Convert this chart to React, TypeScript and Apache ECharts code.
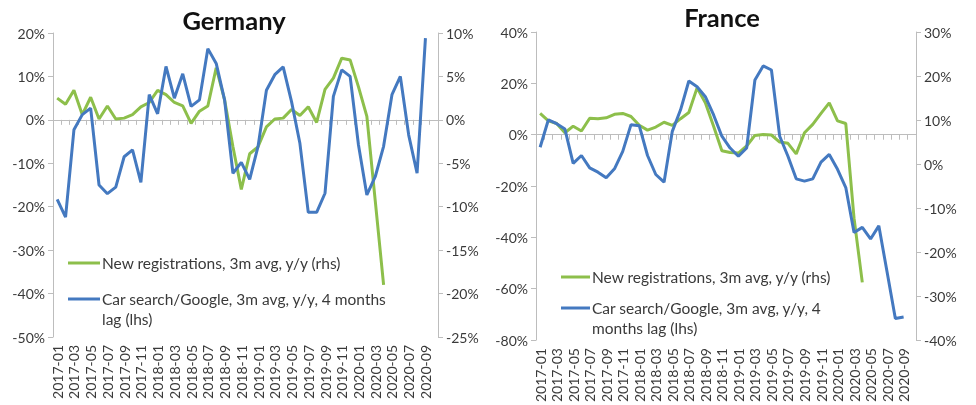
import React, { useEffect, useRef } from "react";
import * as echarts from "echarts";

const months: string[] = [
  "2017-01","2017-02","2017-03","2017-04","2017-05","2017-06","2017-07","2017-08","2017-09","2017-10","2017-11","2017-12",
  "2018-01","2018-02","2018-03","2018-04","2018-05","2018-06","2018-07","2018-08","2018-09","2018-10","2018-11","2018-12",
  "2019-01","2019-02","2019-03","2019-04","2019-05","2019-06","2019-07","2019-08","2019-09","2019-10","2019-11","2019-12",
  "2020-01","2020-02","2020-03","2020-04","2020-05","2020-06","2020-07","2020-08","2020-09","2020-10",
];

const deSearch: (number | null)[] = [
  -18.3, -22.4, -2.3, 1.2, 2.7, -15, -17, -15.5, -8.5, -6.9,
  -14.4, 5.8, 1.4, 12.3, 5, 10.6, 3.1, 4.6, 16.4, 13,
  4.6, -12.3, -9.8, -13.7, -6.1, 6.8, 10.4, 12.2, 4.2, -5.4,
  -21.3, -21.3, -16.9, 5.4, 11.5, 10, -5.8, -17.3, -13.1, -6.1,
  5.8, 10, -3.5, -12.3, 18.8, null,
];
const deRegs: (number | null)[] = [
  2.5, 1.8, 3.4, 0.6, 2.6, 0.1, 1.6, 0.1, 0.2, 0.6,
  1.5, 2, 3.4, 2.9, 2, 1.6, -0.4, 1, 1.6, 6,
  2.3, -3.1, -8, -3.9, -3.1, -0.8, 0.1, 0.2, 1.2, 0.5,
  1.5, -0.3, 3.5, 4.8, 7.1, 6.9, 3.8, 0.4, -9.3, -19,
  null, null, null, null, null, null,
];
const frSearch: (number | null)[] = [
  -4.9, 5.8, 4.3, 2.2, -11.2, -8.1, -12.9, -14.6, -16.8, -13.3,
  -6.5, 3.9, 3.5, -8.1, -15.5, -18.5, 1.3, 9.7, 20.9, 18.7,
  14.8, 7.7, -0.6, -5.2, -8.4, -5.2, 21.3, 26.8, 25.2, -0.6,
  -8.4, -17.2, -18.1, -17.2, -10.7, -7.7, -13.5, -20.6, -38.1, -36.1,
  -40.6, -35.5, -53.5, -71.6, -71, null,
];
const frRegs: (number | null)[] = [
  11.5, 9.8, 9.2, 7.1, 8.6, 7.5, 10.4, 10.3, 10.5, 11.3,
  11.5, 10.8, 8.8, 7.7, 8.4, 9.5, 8.8, 10.3, 11.7, 17.3,
  13.9, 8.6, 3, 2.6, 2.5, 4.1, 6.5, 6.7, 6.6, 5,
  4.7, 2.3, 7.1, 9, 11.5, 13.9, 9.8, 9.2, -12.3, -26.9,
  null, null, null, null, null, null,
];

const titles = ["Germany", "France"];
const legendRegs = "New registrations, 3m avg, y/y (rhs)";
const legendSearchDE = "Car search/Google, 3m avg, y/y, 4 months\nlag (lhs)";
const legendSearchFR = "Car search/Google, 3m avg, y/y, 4\nmonths lag (lhs)";

const FONT = "Lato";
const GREEN = "#8DBF4B";
const BLUE = "#4479C0";
const AXIS = "#BDBDBD";
const TXT = "#3A3A3A";

export default function App() {
  const ref = useRef<HTMLDivElement>(null);
  useEffect(() => {
    if (!ref.current) return;
    const chart = echarts.init(ref.current, null, { renderer: "svg" });

    const lineAxisX = (grid: number, zeroIdx: number) => ({
      type: "category",
      gridIndex: grid,
      data: months,
      boundaryGap: true,
      axisLine: { show: true, onZero: true, onZeroAxisIndex: zeroIdx, lineStyle: { color: AXIS, width: 1 } },
      axisTick: { show: true, interval: 0, length: 5, lineStyle: { color: AXIS } },
      axisLabel: { show: false },
      splitLine: { show: false },
    });
    const labelAxisX = (grid: number) => ({
      type: "category",
      gridIndex: grid,
      data: months,
      position: "bottom",
      boundaryGap: true,
      axisLine: { show: false, onZero: false },
      axisTick: { show: false },
      axisLabel: { show: true, interval: 1, rotate: 90, margin: 8, fontSize: 14, color: TXT, fontFamily: FONT },
      splitLine: { show: false },
    });
    const valAxis = (grid: number, pos: string, min: number, max: number, interval: number) => ({
      type: "value",
      gridIndex: grid,
      position: pos,
      min,
      max,
      interval,
      axisLine: { show: true, lineStyle: { color: AXIS, width: 1 } },
      axisTick: { show: true, length: 5, lineStyle: { color: AXIS } },
      axisLabel: { formatter: "{value}%", fontSize: 14, color: TXT, fontFamily: FONT, margin: 8 },
      splitLine: { show: false },
    });

    const lineSeries = (name: string, data: (number | null)[], color: string, x: number, y: number) => ({
      type: "line",
      name,
      data,
      xAxisIndex: x,
      yAxisIndex: y,
      showSymbol: false,
      symbol: "none",
      connectNulls: false,
      lineStyle: { color, width: 3 },
      itemStyle: { color },
      z: color === BLUE ? 3 : 2,
    });

    const legendText = (x: number, y: number, text: string) => ({
      type: "text",
      x,
      y,
      style: { text, fontSize: 15.5, fontFamily: FONT, fill: TXT, lineHeight: 20, textVerticalAlign: "top" },
    });
    const legendLine = (x1: number, x2: number, y: number, color: string) => ({
      type: "line",
      shape: { x1, y1: y, x2, y2: y },
      style: { stroke: color, lineWidth: 3 },
    });

    chart.setOption({
      animation: false,
      textStyle: { fontFamily: FONT },
      grid: [
        { left: 53, top: 33, width: 385, height: 304, containLabel: false },
        { left: 536, top: 32, width: 380, height: 310, containLabel: false },
      ],
      xAxis: [lineAxisX(0, 0), labelAxisX(0), lineAxisX(1, 2), labelAxisX(1)],
      yAxis: [
        valAxis(0, "left", -50, 20, 10),
        valAxis(0, "right", -25, 10, 5),
        valAxis(1, "left", -80, 40, 20),
        valAxis(1, "right", -40, 30, 10),
      ],
      series: [
        lineSeries("de-regs", deRegs, GREEN, 0, 1),
        lineSeries("de-search", deSearch, BLUE, 0, 0),
        lineSeries("fr-regs", frRegs, GREEN, 2, 3),
        lineSeries("fr-search", frSearch, BLUE, 2, 2),
      ],
      graphic: [
        {
          type: "text",
          x: 234,
          y: 20,
          style: { text: titles[0], fontSize: 25.5, fontWeight: "bold", fontFamily: FONT, fill: "#111", textAlign: "center", textVerticalAlign: "middle" },
        },
        {
          type: "text",
          x: 722,
          y: 17,
          style: { text: titles[1], fontSize: 25.5, fontWeight: "bold", fontFamily: FONT, fill: "#111", textAlign: "center", textVerticalAlign: "middle" },
        },
        legendLine(68, 100, 263, GREEN),
        legendText(102, 253, legendRegs),
        legendLine(68, 100, 299, BLUE),
        legendText(102, 289, legendSearchDE),
        legendLine(561, 590, 277, GREEN),
        legendText(592, 267, legendRegs),
        legendLine(561, 590, 308, BLUE),
        legendText(592, 298, legendSearchFR),
      ],
    });
    return () => chart.dispose();
  }, []);
  return <div ref={ref} style={{ position: "fixed", left: 0, top: 0, width: 976, height: 405 }} />;
}
